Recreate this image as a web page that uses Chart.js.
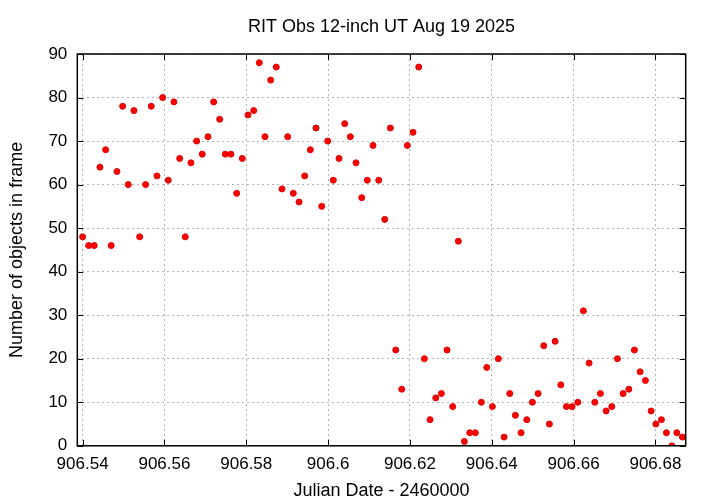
<!DOCTYPE html>
<html>
<head>
<meta charset="utf-8">
<script src="https://cdn.jsdelivr.net/npm/chart.js@4"></script>
<style>
  html, body { margin: 0; padding: 0; background: #ffffff; }
  #wrap { width: 720px; height: 504px; }
</style>
</head>
<body>
<div id="wrap"><canvas id="c" width="720" height="504"></canvas></div>
<script>
const chartTitle = "RIT Obs 12-inch UT Aug 19 2025";
const xAxisTitle = "Julian Date - 2460000";
const yAxisTitle = "Number of objects in frame";

const julianDates = [
  906.54000, 906.54147, 906.54284, 906.54423, 906.54562, 906.54699, 906.54839, 906.54978,
  906.55115, 906.55254, 906.55394, 906.55540, 906.55677, 906.55817, 906.55956, 906.56093,
  906.56232, 906.56372, 906.56509, 906.56648, 906.56787, 906.56924, 906.57064, 906.57203,
  906.57350, 906.57487, 906.57626, 906.57765, 906.57902, 906.58042, 906.58181, 906.58318,
  906.58457, 906.58597, 906.58733, 906.58873, 906.59012, 906.59149, 906.59289, 906.59428,
  906.59565, 906.59704, 906.59844, 906.59990, 906.60127, 906.60267, 906.60406, 906.60543,
  906.60682, 906.60822, 906.60958, 906.61098, 906.61237, 906.61384, 906.61521, 906.61653,
  906.61800, 906.61936, 906.62076, 906.62215, 906.62352, 906.62491, 906.62631, 906.62768,
  906.62907, 906.63046, 906.63183, 906.63330, 906.63462, 906.63599, 906.63746, 906.63878,
  906.64015, 906.64161, 906.64301, 906.64440, 906.64577, 906.64716, 906.64856, 906.64993,
  906.65132, 906.65271, 906.65408, 906.65548, 906.65687, 906.65824, 906.65963, 906.66103,
  906.66240, 906.66379, 906.66518, 906.66655, 906.66795, 906.66934, 906.67071, 906.67210,
  906.67350, 906.67487, 906.67626, 906.67756, 906.67895, 906.68010, 906.68147, 906.68269,
  906.68401, 906.68523, 906.68660
];

const objectCounts = [
  48, 46, 46, 64, 68, 46, 63, 78,
  60, 77, 48, 60, 78, 62, 80, 61,
  79, 66, 48, 65, 70, 67, 71, 79,
  75, 67, 67, 58, 66, 76, 77, 88,
  71, 84, 87, 59, 71, 58, 56, 62,
  68, 73, 55, 70, 61, 66, 74, 71,
  65, 57, 61, 69, 61, 52, 73, 22,
  13, 69, 72, 87, 20, 6, 11, 12,
  22, 9, 47, 1, 3, 3, 10, 18,
  9, 20, 2, 12, 7, 3, 6, 10,
  12, 23, 5, 24, 14, 9, 9, 10,
  31, 19, 10, 12, 8, 9, 20, 12,
  13, 22, 17, 15, 8, 5, 6, 3,
  0, 3, 2
];

const xTickValues = [906.54, 906.56, 906.58, 906.60, 906.62, 906.64, 906.66, 906.68];
const yTickValues = [0, 10, 20, 30, 40, 50, 60, 70, 80, 90];
const xRange = [906.5387, 906.6874];
const yRange = [0, 90];

const points = julianDates.map((x, i) => ({ x: x, y: objectCounts[i] }));

const FONT = "'Liberation Sans', Arial, Helvetica, sans-serif";

const framePlugin = {
  id: 'frame',
  afterDraw(chart) {
    const { ctx, chartArea: a, scales } = chart;
    const tl = 6;
    ctx.save();
    ctx.strokeStyle = '#000000';
    ctx.lineWidth = 1;
    ctx.beginPath();
    xTickValues.forEach(v => {
      const px = Math.round(scales.x.getPixelForValue(v)) + 0.5;
      ctx.moveTo(px, a.bottom); ctx.lineTo(px, a.bottom - tl);
      ctx.moveTo(px, a.top); ctx.lineTo(px, a.top + tl);
    });
    yTickValues.forEach(v => {
      const py = Math.round(scales.y.getPixelForValue(v)) + 0.5;
      ctx.moveTo(a.left, py); ctx.lineTo(a.left + tl, py);
      ctx.moveTo(a.right, py); ctx.lineTo(a.right - tl, py);
    });
    ctx.stroke();
    ctx.lineWidth = 1.5;
    ctx.strokeRect(a.left, a.top, a.right - a.left, a.bottom - a.top);
    ctx.restore();
  }
};

new Chart(document.getElementById('c'), {
  type: 'scatter',
  data: {
    datasets: [{
      data: points,
      backgroundColor: '#ff0000',
      borderColor: '#e00000',
      borderWidth: 1,
      pointRadius: 3,
      pointHoverRadius: 3,
      showLine: false
    }]
  },
  options: {
    responsive: false,
    animation: false,
    events: [],
    layout: { padding: { left: 0, right: 34.3, top: 0, bottom: 0 } },
    plugins: {
      legend: { display: false },
      tooltip: { enabled: false },
      title: {
        display: true,
        fullSize: false,
        text: chartTitle,
        color: '#000000',
        font: { family: FONT, size: 18, weight: 'normal', lineHeight: 1.2 },
        padding: { top: 16.2, bottom: 16.2 }
      }
    },
    scales: {
      x: {
        type: 'linear',
        position: 'bottom',
        min: xRange[0],
        max: xRange[1],
        afterBuildTicks(scale) { scale.ticks = xTickValues.map(v => ({ value: v })); },
        afterFit(scale) { scale.height = 58.2; },
        ticks: {
          autoSkip: false,
          maxRotation: 0,
          minRotation: 0,
          padding: 8,
          color: '#000000',
          font: { family: FONT, size: 17 },
          callback: (v) => String(+Number(v).toFixed(2))
        },
        grid: { color: '#b4b4b4', lineWidth: 1, drawTicks: false },
        border: { display: false, dash: [2, 3] },
        title: {
          display: true,
          text: xAxisTitle,
          color: '#000000',
          font: { family: FONT, size: 18, lineHeight: 1.2 },
          padding: { top: 0, bottom: 2.2 }
        }
      },
      y: {
        type: 'linear',
        position: 'left',
        min: yRange[0],
        max: yRange[1],
        afterBuildTicks(scale) { scale.ticks = yTickValues.map(v => ({ value: v })); },
        afterFit(scale) { scale.width = 77.3; },
        ticks: {
          padding: 10,
          color: '#000000',
          font: { family: FONT, size: 17 }
        },
        grid: { color: '#b4b4b4', lineWidth: 1, drawTicks: false },
        border: { display: false, dash: [2, 3] },
        title: {
          display: true,
          text: yAxisTitle,
          color: '#000000',
          font: { family: FONT, size: 18, lineHeight: 1.2 },
          padding: { top: 6.2, bottom: 0 }
        }
      }
    }
  },
  plugins: [framePlugin]
});
</script>
</body>
</html>
